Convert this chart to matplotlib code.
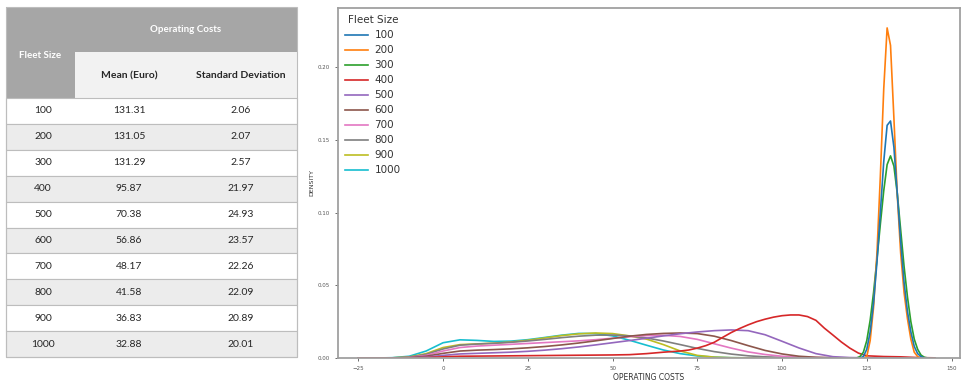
import matplotlib
matplotlib.use("Agg")
from matplotlib import pyplot as plt
from matplotlib.patches import Rectangle

# summary table
fleet_sizes = [100, 200, 300, 400, 500, 600, 700, 800, 900, 1000]
mean_cost = ["131.31", "131.05", "131.29", "95.87", "70.38", "56.86", "48.17", "41.58", "36.83", "32.88"]
std_cost = ["2.06", "2.07", "2.57", "21.97", "24.93", "23.57", "22.26", "22.09", "20.89", "20.01"]

# density curves, wide ones on a 5-euro grid
wide_x = [-25, -20, -15, -10, -5, 0, 5, 10, 15, 20, 25, 30, 35, 40, 45, 50, 55, 60, 65, 70,
          75, 80, 85, 90, 95, 100, 105, 110, 115, 120, 125, 130, 135, 140, 145]
# fleet 400 gets a finer grid around its hump
red_x = [-25, -20, -15, -10, -5, 0, 5, 10, 15, 20, 25, 30, 35, 40, 45, 50, 55, 60, 65, 70,
         72.5, 75, 77.5, 80, 82.5, 85, 87.5, 90, 92.5, 95, 97.5, 100, 102.5, 105, 107.5, 110,
         112.5, 115, 117.5, 120, 122.5, 125, 130, 135, 140, 145]
dens_400 = [0, 0, 0, 0.0001, 0.0003, 0.0008, 0.0012, 0.0013, 0.0014, 0.0015, 0.0016, 0.0017, 0.0018,
            0.0019, 0.002, 0.0021, 0.0023, 0.003, 0.004, 0.0048,
            0.0055, 0.0068, 0.0085, 0.0108, 0.0142, 0.0175, 0.0203, 0.0228, 0.025, 0.0267, 0.0281,
            0.0291, 0.0296, 0.0296, 0.0285, 0.0259, 0.0205, 0.0158, 0.011, 0.0068, 0.0034, 0.0015,
            0.001, 0.0008, 0.0003, 0.0001]
dens_500 = [0, 0, 0, 0.0001, 0.0006, 0.0018, 0.0028, 0.0032, 0.0036, 0.004, 0.0046, 0.0054, 0.0064,
            0.0076, 0.009, 0.0105, 0.012, 0.0136, 0.0152, 0.0167, 0.0179, 0.0188, 0.0193, 0.0188,
            0.016, 0.0115, 0.0069, 0.003, 0.0009, 0.0003, 0.0001, 0.0001, 0, 0, 0]
dens_600 = [0, 0, 0, 0.0002, 0.0012, 0.0032, 0.0048, 0.0054, 0.0058, 0.0063, 0.007, 0.0079, 0.009,
            0.0103, 0.0118, 0.0134, 0.015, 0.0162, 0.0169, 0.0172, 0.0168, 0.015, 0.012, 0.0085,
            0.0052, 0.0028, 0.0012, 0.0005, 0.0002, 0.0001, 0, 0, 0, 0, 0]
dens_700 = [0, 0, 0, 0.0003, 0.0018, 0.0048, 0.0072, 0.0082, 0.0088, 0.0094, 0.01, 0.0106, 0.0112,
            0.0118, 0.0126, 0.0136, 0.0146, 0.0154, 0.0156, 0.0148, 0.0128, 0.0098, 0.0068, 0.0042,
            0.0024, 0.0012, 0.0006, 0.0003, 0.0001, 0, 0, 0, 0, 0, 0]
dens_800 = [0, 0, 0.0001, 0.0005, 0.0025, 0.0062, 0.0088, 0.0096, 0.0101, 0.0108, 0.0117, 0.0128, 0.014,
            0.015, 0.0157, 0.0158, 0.0152, 0.0138, 0.0117, 0.0092, 0.0066, 0.0044, 0.0027, 0.0015,
            0.0008, 0.0004, 0.0002, 0.0001, 0, 0, 0, 0, 0, 0, 0]
dens_900 = [0, 0, 0.0001, 0.0007, 0.003, 0.0072, 0.0092, 0.0097, 0.0102, 0.011, 0.0122, 0.0138, 0.0154,
            0.0166, 0.0172, 0.0168, 0.0152, 0.013, 0.0092, 0.0048, 0.0018, 0.0006, 0.0002, 0.0001,
            0, 0, 0, 0, 0, 0, 0, 0, 0, 0, 0]
dens_1000 = [0, 0, 0.0002, 0.0012, 0.0048, 0.0105, 0.0125, 0.0121, 0.0114, 0.0116, 0.0126, 0.0141, 0.0157,
             0.0169, 0.0168, 0.0152, 0.0122, 0.0088, 0.0055, 0.003, 0.0014, 0.0006, 0.0002, 0.0001,
             0, 0, 0, 0, 0, 0, 0, 0, 0, 0, 0]

# narrow peaks on a 1-euro grid
peak_x = [122, 123, 124, 125, 126, 127, 128, 129, 130, 131, 132, 133, 134, 135, 136, 137, 138, 139, 140, 141, 142, 143]
dens_100 = [0, 0, 0.001, 0.006, 0.018, 0.038, 0.066, 0.1, 0.135, 0.16, 0.163, 0.145, 0.113, 0.08,
            0.052, 0.032, 0.018, 0.008, 0.003, 0.001, 0, 0]
dens_200 = [0, 0, 0, 0.001, 0.012, 0.035, 0.072, 0.125, 0.185, 0.227, 0.215, 0.165, 0.112, 0.072,
            0.045, 0.027, 0.013, 0.004, 0.001, 0, 0, 0]
dens_300 = [0, 0.001, 0.004, 0.012, 0.026, 0.045, 0.068, 0.092, 0.115, 0.133, 0.139, 0.132, 0.113, 0.088,
            0.063, 0.042, 0.025, 0.013, 0.006, 0.002, 0.0005, 0]

curves = {
    100: (peak_x, dens_100), 200: (peak_x, dens_200), 300: (peak_x, dens_300),
    400: (red_x, dens_400), 500: (wide_x, dens_500), 600: (wide_x, dens_600),
    700: (wide_x, dens_700), 800: (wide_x, dens_800), 900: (wide_x, dens_900),
    1000: (wide_x, dens_1000),
}
colors = plt.get_cmap("tab10").colors

fig = plt.figure(figsize=(9.62, 3.83), dpi=100)
W, H = 962, 383

# ---------- table ----------
tab = fig.add_axes([0, 0, 1, 1])
tab.set_xlim(0, W)
tab.set_ylim(H, 0)
tab.axis("off")

L, R = 6, 297
c1 = 75
head_col = "#a6a6a6"
sub_col = "#f2f2f2"
line_col = "#bdbdbd"
txt_font = "Lato"

tab.add_patch(Rectangle((L, 7), R - L, 91, color=head_col, lw=0))
tab.add_patch(Rectangle((c1, 52), R - c1, 46, color=sub_col, lw=0))
tab.text(40, 55, "Fleet Size", color="white", ha="center", va="center", fontsize=7,
         fontweight="bold", family=txt_font)
tab.text((c1 + R) / 2, 30, "Operating Costs", color="white", ha="center", va="center",
         fontsize=7, fontweight="bold", family=txt_font)
tab.text(129, 76, "Mean (Euro)", color="#262626", ha="center", va="center", fontsize=7.5,
         fontweight="bold", family=txt_font)
tab.text(241, 76, "Standard Deviation", color="#262626", ha="center", va="center", fontsize=7.5,
         fontweight="bold", family=txt_font)

top, row_h = 98, 25.9
for i, fs in enumerate(fleet_sizes):
    y0 = top + i * row_h
    bg = "white" if i % 2 == 0 else "#ececec"
    tab.add_patch(Rectangle((L, y0), R - L, row_h, facecolor=bg, edgecolor=line_col, lw=0.8))
    yc = y0 + row_h / 2
    tab.text(43, yc, str(fs), ha="center", va="center", fontsize=7.5, color="#262626", family=txt_font)
    tab.text(129, yc, mean_cost[i], ha="center", va="center", fontsize=7.5, color="#262626", family=txt_font)
    tab.text(241, yc, std_cost[i], ha="center", va="center", fontsize=7.5, color="#262626", family=txt_font)
tab.add_patch(Rectangle((L, 7), R - L, top + 10 * row_h - 7, fill=False, edgecolor=line_col, lw=0.8))

# ---------- density plot ----------
ax = fig.add_axes([338 / W, 1 - 358 / H, (960 - 338) / W, (358 - 8) / H])
for i in range(len(fleet_sizes) - 1, -1, -1):
    fs = fleet_sizes[i]
    xs, ys = curves[fs]
    ax.plot(xs, ys, color=colors[i], lw=1.2, label=str(fs))

ax.set_xlim(-31, 152.5)
ax.set_ylim(0, 0.2407)
ax.set_xticks([-25, 0, 25, 50, 75, 100, 125, 150])
ax.set_yticks([0, 0.05, 0.10, 0.15, 0.20])
ax.yaxis.set_major_formatter(matplotlib.ticker.FormatStrFormatter("%.2f"))
ax.tick_params(labelsize=4, colors="#555555", length=2, width=0.6)
for s in ax.spines.values():
    s.set_color("#a0a0a0")
    s.set_linewidth(1.3)
ax.set_xlabel("OPERATING COSTS", fontsize=5.5, color="#333333", labelpad=2)
ax.set_ylabel("DENSITY", fontsize=4.5, color="#333333", labelpad=3)

handles, labels = ax.get_legend_handles_labels()
leg = ax.legend(handles[::-1], labels[::-1], title="Fleet Size", loc="upper left", frameon=False,
                fontsize=7.5, title_fontsize=7.5, handlelength=2.2, labelspacing=0.48,
                borderaxespad=0.3, handletextpad=0.6)
for t in leg.get_texts():
    t.set_color("#333333")
leg.get_title().set_color("#333333")

fig.savefig("out.png", dpi=100)
